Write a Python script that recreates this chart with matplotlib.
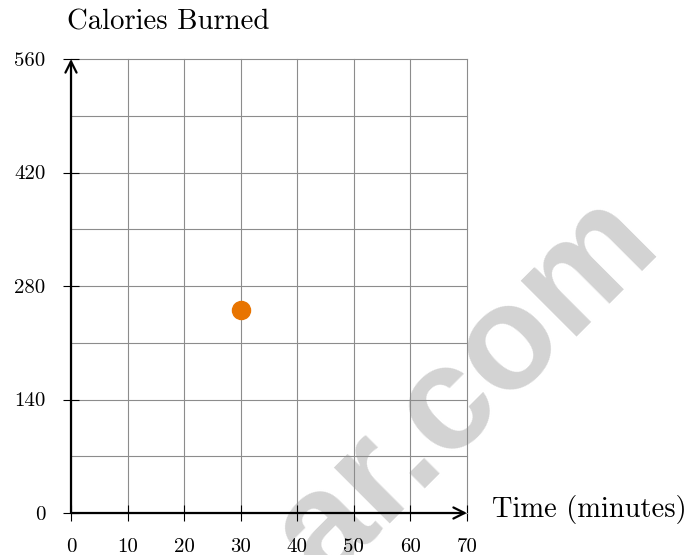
import matplotlib
matplotlib.use("Agg")
import matplotlib.pyplot as plt

# data
time_min = [30]
calories = [250]
x_ticks = [0, 10, 20, 30, 40, 50, 60, 70]
y_ticks = [0, 140, 280, 420, 560]
y_minor = [70, 210, 350, 490]

plt.rcParams["font.family"] = ["cmr10", "DejaVu Serif"]
plt.rcParams["axes.formatter.use_mathtext"] = True

fig = plt.figure(figsize=(6.91, 5.55), dpi=100)
ax = fig.add_axes([71 / 691, 42 / 555, 396 / 691, 454 / 555])
ax.set_facecolor("none")
ax.set_xlim(0, 70)
ax.set_ylim(0, 560)
for s in ax.spines.values():
    s.set_visible(False)

ax.set_xticks(x_ticks)
ax.set_xticklabels([str(t) for t in x_ticks])
ax.set_yticks(y_ticks)
ax.set_yticklabels([str(t) for t in y_ticks])
ax.set_yticks(y_minor, minor=True)
ax.tick_params(which="major", direction="inout", length=11.5, width=0.8,
               labelsize=15, pad=12.5, color="black")
ax.tick_params(which="minor", length=0)

ax.grid(True, which="both", color="#8c8c8c", linewidth=0.8)
ticks = (ax.xaxis.get_major_ticks() + ax.yaxis.get_major_ticks()
         + ax.yaxis.get_minor_ticks())
for t in ticks:
    t.gridline.set_clip_on(False)
ax.set_axisbelow(True)

# axes with arrow heads
arrow = dict(arrowstyle="->", lw=1.6, color="black", shrinkA=0, shrinkB=0, mutation_scale=20)
ax.annotate("", xy=(1, 0), xytext=(0, 0), xycoords="axes fraction", arrowprops=arrow, annotation_clip=False)
ax.annotate("", xy=(0, 1), xytext=(0, 0), xycoords="axes fraction", arrowprops=arrow, annotation_clip=False)

ax.plot(time_min, calories, "o", color="#e87400", markersize=13, clip_on=False, zorder=5)

fig.text(67 / 691, 1 - 29 / 555, "Calories Burned", fontsize=20.7, ha="left", va="baseline")
fig.text(492 / 691, 1 - 517 / 555, "Time (minutes)", fontsize=20.5, ha="left", va="baseline")

# watermark
fig.text(663 / 691, 1 - 246 / 555, "ar.com", rotation=45, rotation_mode="anchor",
         ha="right", va="baseline", fontsize=107, fontweight="bold",
         family="Liberation Sans", color="#d3d3d3", zorder=-1)

fig.savefig("out.png", dpi=100)
